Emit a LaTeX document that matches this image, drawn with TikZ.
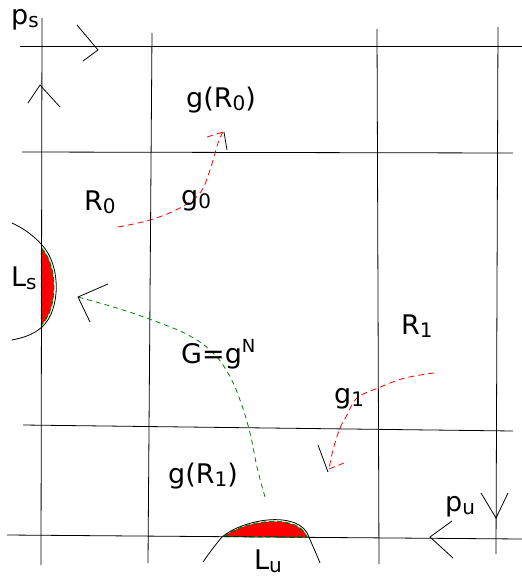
\documentclass[tikz,border=0pt]{standalone}
\usepackage{fontspec}
\setmainfont{DejaVu Sans}
\newcommand{\lsub}[1]{\raisebox{-3pt}{\fontsize{20}{20}\selectfont #1}}
\newcommand{\lsup}[1]{\raisebox{11pt}{\fontsize{18}{18}\selectfont #1}}
\definecolor{dgreen}{RGB}{0,128,0}
\tikzset{
  gridline/.style={black, line width=0.8pt},
  chev/.style={black, line width=0.8pt},
  reddash/.style={red, line width=0.8pt, dash pattern=on 6pt off 4pt},
  greendash/.style={dgreen, line width=0.8pt, dash pattern=on 5pt off 4pt},
  lensfill/.style={fill=red, draw=dgreen, line width=1.2pt, dash pattern=on 5pt off 3pt},
  lbl/.style={anchor=base west, inner sep=0pt, font=\fontsize{27}{31}\selectfont}
}
\begin{document}
\begin{tikzpicture}[x=1pt,y=-1pt]
\useasboundingbox (0,0) rectangle (522,576);
% grid coordinates
\coordinate (h1a) at (20,46);  \coordinate (h1b) at (522,46);
\coordinate (h2a) at (22,152); \coordinate (h2b) at (513,153);
\coordinate (h3a) at (23,425); \coordinate (h3b) at (513,431);
\coordinate (h4a) at (7,535);  \coordinate (h4b) at (522,539);
\coordinate (v1a) at (42,18);  \coordinate (v1b) at (41,565);
\coordinate (v2a) at (152,33); \coordinate (v2b) at (148,563);
\coordinate (v3a) at (377,29); \coordinate (v3b) at (379,564);
\coordinate (v4a) at (498,27); \coordinate (v4b) at (496,554);
% lenses (fill first)
\path[lensfill] (41.5,248) .. controls (58,266) and (58,308) .. (41.5,325) -- cycle;
\path[lensfill] (224,536.5) .. controls (246,520) and (298,513) .. (307,537) -- cycle;
% grid
\draw[gridline] (h1a) -- (h1b);
\draw[gridline] (h2a) -- (h2b);
\draw[gridline] (h3a) -- (h3b);
\draw[gridline] (h4a) -- (h4b);
\draw[gridline] (v1a) -- (v1b);
\draw[gridline] (v2a) -- (v2b);
\draw[gridline] (v3a) -- (v3b);
\draw[gridline] (v4a) -- (v4b);
% lens boundary curves
\draw[chev] (12,223) .. controls (25,229) and (35,237) .. (42,245)
  .. controls (61,265) and (61,310) .. (42,327)
  .. controls (33,335) and (22,338) .. (12,340);
\draw[chev] (203,562) .. controls (210,552) and (216,544) .. (222,537)
  .. controls (245,518) and (300,510) .. (309,537)
  .. controls (313,547) and (317,555) .. (320,563);
% direction chevrons
\draw[chev] (77,25) -- (98,50) -- (83,61);
\draw[chev] (28,103) -- (40,85) -- (60,107);
\draw[chev] (481,493) -- (496,518) -- (508,493);
\draw[chev] (452,521) -- (430,537) -- (453,558);
% g0 map
\coordinate (g0t) at (223,132);
\draw[reddash] plot[smooth, tension=0.6] coordinates {(118,227) (150,220) (180,208) (200,193) (210,170) (218,143) (223,132)};
\draw[reddash] (207,137) -- (g0t);
\draw[chev] (224,132) -- (227,150);
% g1 map
\coordinate (g1t) at (329,469);
\draw[reddash] plot[smooth, tension=0.6] coordinates {(434,373) (405,378) (378,388) (357,398) (347,415) (340,428) (333,450) (329,469)};
\draw[reddash] (344,463) -- (g1t);
\draw[chev] (318,445) -- (328,472);
% G map
\coordinate (Gt) at (78,297);
\draw[greendash] plot[smooth, tension=0.7] coordinates {(265,497) (257,467) (250,433) (240,400) (228,373) (212,352) (190,336) (160,323) (120,309) (78,297)};
\draw[chev] (108,284) -- (Gt) -- (90,322);
% labels
\node[lbl] (ps) at (11,24) {p\lsub{s}};
\node[lbl] (gR0) at (186,107) {g(R\lsub{0})};
\node[lbl] (R0) at (84,210) {R\lsub{0}};
\node[lbl] (g0) at (181,205) {g\lsub{0}};
\node[lbl] (Ls) at (11,286) {L\lsub{s}};
\node[lbl] (R1) at (401,334) {R\lsub{1}};
\node[lbl] (GgN) at (181,363) {G=g\lsup{N}};
\node[lbl] (g1) at (334,403) {g\lsub{1}};
\node[lbl] (gR1) at (168,483) {g(R\lsub{1})};
\node[lbl] (pu) at (445,511) {p\lsub{u}};
\node[lbl] (Lu) at (254,569) {L\lsub{u}};
\end{tikzpicture}
\end{document}
